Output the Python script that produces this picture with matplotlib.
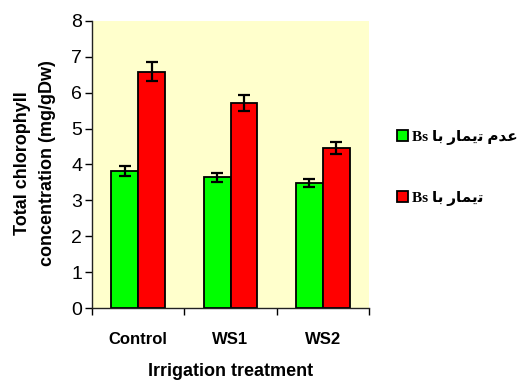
import matplotlib
matplotlib.use("Agg")
import matplotlib.pyplot as plt
import numpy as np

categories = ["Control", "WS1", "WS2"]
untreated = [3.82, 3.64, 3.48]
untreated_err = [0.14, 0.12, 0.11]
treated = [6.59, 5.72, 4.47]
treated_err = [0.27, 0.22, 0.17]
yticks = [0, 1, 2, 3, 4, 5, 6, 7, 8]

# Persian legend labels, pre-shaped (visual order) for left-to-right rendering
label_untreated = "Bs \uFE8E\uFE91 \uFEAD\uFE8E\uFEE4\uFBFE\uFE97 \uFEE1\uFEAA\uFECB"   # عدم تیمار با Bs
label_treated = "Bs \uFE8E\uFE91 \uFEAD\uFE8E\uFEE4\uFBFE\uFE97"                    # تیمار با Bs

fig = plt.figure(figsize=(5.18, 3.83), dpi=100)
ax = fig.add_axes([0.1776, 0.1958, 0.7124 - 0.1776, 0.9452 - 0.1958])
ax.set_facecolor("#FFFFCC")

x = np.arange(len(categories))
w = 0.29
ekw = dict(capsize=4.5, elinewidth=1.6, capthick=1.6, ecolor="black")
b1 = ax.bar(x - w / 2, untreated, w, yerr=untreated_err, color="#00FF00",
            edgecolor="black", linewidth=1.3, error_kw=ekw, label=label_untreated)
b2 = ax.bar(x + w / 2, treated, w, yerr=treated_err, color="#FF0000",
            edgecolor="black", linewidth=1.3, error_kw=ekw, label=label_treated)

ax.set_xlim(-0.5, 2.5)
ax.set_ylim(0, 8)
ax.spines["top"].set_visible(False)
ax.spines["right"].set_visible(False)
for s in ("left", "bottom"):
    ax.spines[s].set_linewidth(1.0)
    ax.spines[s].set_color("#222222")

ax.set_yticks(yticks)
ax.set_yticklabels([str(v) for v in yticks],
                   fontdict=dict(family="Liberation Sans", size=14))
ax.tick_params(axis="y", direction="out", length=5, width=1, pad=2)

ax.set_xticks([-0.5, 0.5, 1.5, 2.5])
ax.set_xticklabels([])
ax.tick_params(axis="x", which="major", direction="out", length=5, width=1)
ax.set_xticks(x, minor=True)
ax.set_xticklabels(categories, minor=True,
                   fontdict=dict(family="Liberation Sans", weight="bold", size=12))
ax.tick_params(axis="x", which="minor", length=0, pad=17)

ax.set_xlabel("Irrigation treatment", fontsize=13, fontweight="bold",
              family="Liberation Sans", labelpad=12)

fig.text(35 / 518, 0.575, "Total chlorophyll\nconcentration (mg/gDw)",
         rotation=90, ha="center", va="center", fontsize=13, fontweight="bold",
         family="Liberation Sans", linespacing=1.6)

leg = fig.legend(handles=[b1, b2], loc="center left", bbox_to_anchor=(0.766, 0.562),
                 frameon=False, borderpad=0, borderaxespad=0,
                 handlelength=0.75, handleheight=0.75, handletextpad=0.25,
                 labelspacing=3.0,
                 prop=dict(family=["Liberation Serif", "DejaVu Sans"], weight="bold", size=11))

fig.savefig("out.png", dpi=100)
